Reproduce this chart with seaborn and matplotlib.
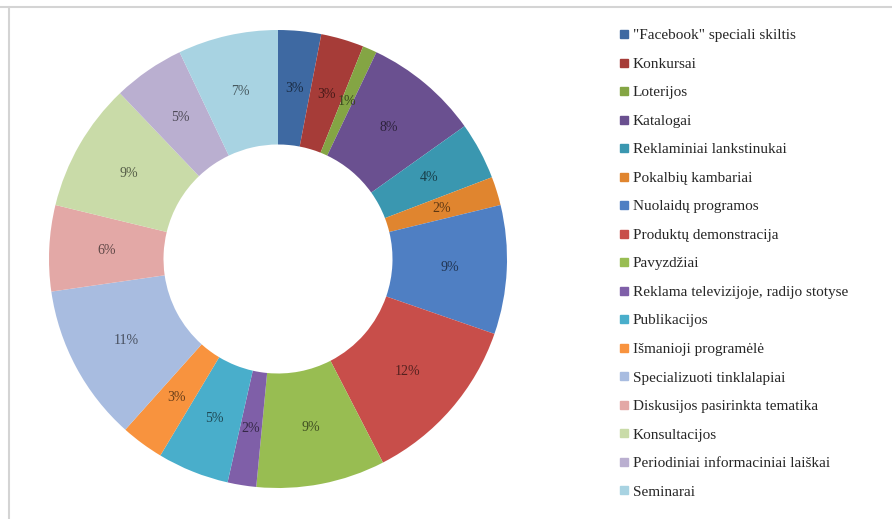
import matplotlib
matplotlib.use("Agg")
import matplotlib.pyplot as plt
import seaborn as sns
from matplotlib.lines import Line2D
import matplotlib.colors as mcolors

sns.set_theme(style="white")
plt.rcParams["font.family"] = ["Liberation Serif", "DejaVu Serif"]

categories = [
    "\"Facebook\" speciali skiltis",
    "Konkursai",
    "Loterijos",
    "Katalogai",
    "Reklaminiai lankstinukai",
    "Pokalbių kambariai",
    "Nuolaidų programos",
    "Produktų demonstracija",
    "Pavyzdžiai",
    "Reklama televizijoje, radijo stotyse",
    "Publikacijos",
    "Išmanioji programėlė",
    "Specializuoti tinklalapiai",
    "Diskusijos pasirinkta tematika",
    "Konsultacijos",
    "Periodiniai informaciniai laiškai",
    "Seminarai",
]
shares = [3, 3, 1, 8, 4, 2, 9, 12, 9, 2, 5, 3, 11, 6, 9, 5, 7]

colors = [
    "#3E69A2", "#A63C38", "#84A544", "#6A5090", "#3A97B0", "#E0852F",
    "#4F7FC3", "#C84E4A", "#98BD52", "#7F5FA8", "#49AECB", "#F8933E",
    "#A8BCE0", "#E3A8A6", "#C9DBA8", "#BAAFD0", "#A8D3E2",
]
palette = sns.color_palette(colors)

fig = plt.figure(figsize=(8.92, 5.19), dpi=100)
fig.patch.set_facecolor("white")

W, H = 892, 519
cx, cy, r = 278, 259, 229
ax = fig.add_axes([(cx - r) / W, (H - cy - r) / H, 2 * r / W, 2 * r / H])

wedges, texts, autotexts = ax.pie(
    shares,
    colors=palette,
    startangle=90,
    counterclock=False,
    radius=1.0,
    wedgeprops=dict(width=0.5, edgecolor="none"),
    autopct=lambda p: "",
    pctdistance=0.75,
)
for w, t, v, c in zip(wedges, autotexts, shares, palette):
    dark = tuple(x * 0.42 for x in mcolors.to_rgb(c))
    t.set_text(f"{v}%")
    t.set_color(dark)
    t.set_fontsize(10)
ax.set_xlim(-1, 1)
ax.set_ylim(-1, 1)
ax.set_aspect("equal")
ax.axis("off")

handles = [
    Line2D([], [], marker="s", linestyle="none", markersize=5.5,
           markerfacecolor=c, markeredgecolor=c)
    for c in palette
]
leg = fig.legend(
    handles, categories,
    loc="upper left",
    bbox_to_anchor=(612 / W, 1 - 21 / H),
    frameon=False,
    fontsize=11,
    handlelength=0.55,
    handletextpad=0.3,
    labelspacing=0.97,
    borderpad=0,
)

# chart frame edges
fig.add_artist(Line2D([0, 1], [1 - 6.5 / H, 1 - 6.5 / H], transform=fig.transFigure,
                      color="#D4D4D4", lw=1.5))
fig.add_artist(Line2D([8.5 / W, 8.5 / W], [0, 1 - 6.5 / H], transform=fig.transFigure,
                      color="#D4D4D4", lw=1.5))

fig.savefig("out.png", dpi=100, facecolor="white")
